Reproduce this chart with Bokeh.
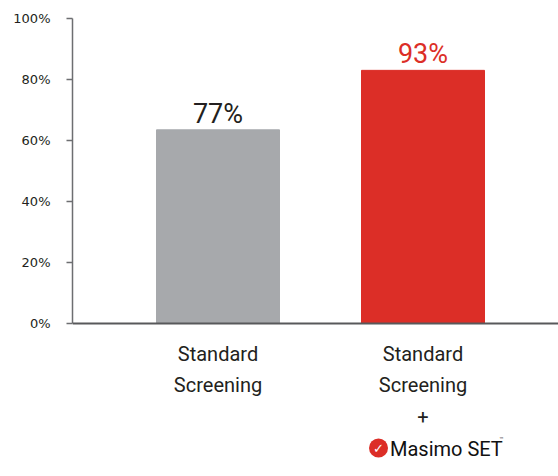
from bokeh.plotting import figure
from bokeh.models import Range1d, FixedTicker, PrintfTickFormatter, Span, ColumnDataSource
from bokeh.core.properties import value
from bokeh.embed import file_html
from bokeh.resources import INLINE

# ---- data ----
categories = ["Standard\nScreening", "Standard\nScreening\n+"]
bar_heights = [63.5, 83.0]           # bar heights as drawn (% of axis)
bar_labels = ["77%", "93%"]          # printed labels
bar_colors = ["#a7a9ac", "#dc2e27"]
label_colors = ["#231f20", "#dc2e27"]
y_ticks = [0, 20, 40, 60, 80, 100]

idx = list(range(len(categories)))

# ---- layout constants (pixels) ----
W, H = 558, 476
BORDER_L, BORDER_T = 72, 18
FRAME_W = W - BORDER_L
FRAME_H = H - BORDER_T
PX_PER_X = 205.0
PX_PER_Y = 305.0 / 100.0
FIRST_CENTER = 145.5
FONT = "Roboto"

x_start = -FIRST_CENTER / PX_PER_X
x_end = (FRAME_W - FIRST_CENTER) / PX_PER_X
y_end = 100
y_start = y_end - FRAME_H / PX_PER_Y

p = figure(width=W, height=H, output_backend="svg", toolbar_location=None,
           x_range=Range1d(x_start, x_end), y_range=Range1d(y_start, y_end),
           x_axis_location=None, min_border_left=BORDER_L, min_border_top=BORDER_T,
           min_border_right=0, min_border_bottom=0)
p.outline_line_color = None
p.grid.visible = False
p.background_fill_color = "white"

# y axis
ya = p.yaxis[0]
ya.bounds = (0, 100)
ya.ticker = FixedTicker(ticks=y_ticks)
ya.formatter = PrintfTickFormatter(format="%d%%")
ya.minor_tick_line_color = None
ya.major_tick_in = 0
ya.major_tick_out = 6
ya.major_label_standoff = 16
ya.axis_line_color = "#6d6e71"
ya.axis_line_width = 1.5
ya.major_tick_line_color = "#6d6e71"
ya.major_tick_line_width = 1.5
ya.major_label_text_font = "DejaVu Sans"
ya.major_label_text_font_size = "13px"
ya.major_label_text_color = "#231f20"

src = ColumnDataSource(dict(x=idx, h=bar_heights, lab=bar_labels, col=bar_colors,
                            lcol=label_colors, cat=categories, zero=[0] * len(idx)))

p.vbar(x="x", top="h", bottom=0, width=0.6, color="col", source=src)

# baseline (x axis line)
p.add_layout(Span(location=0, dimension="width", line_color="#58595b", line_width=2))

# value labels
p.text(x="x", y="h", text="lab", source=src, text_color="lcol",
       text_font=value(FONT), text_font_size="27px",
       text_align="center", text_baseline="alphabetic", y_offset=-16)

# category labels
p.text(x="x", y="zero", text="cat", source=src, text_color="#231f20",
       text_font=value(FONT), text_font_size="20px",
       text_align="center", text_baseline="top", text_line_height=1.32, y_offset=18)

# Masimo SET logo (below second category)
logo_dx_circle = -44.5
logo_dy = 124.5
p.scatter(x=[idx[1] + logo_dx_circle / PX_PER_X], y=[-logo_dy / PX_PER_Y],
          marker="circle", size=19, fill_color="#dc2e27", line_color=None)
p.text(x=[idx[1]], y=[0], text=["✓"], x_offset=logo_dx_circle, y_offset=logo_dy,
       text_color="white", text_font=value("DejaVu Sans"), text_font_style="bold",
       text_font_size="13px", text_align="center", text_baseline="middle")
p.text(x=[idx[1]], y=[0], text=["Masimo SET"], x_offset=-33, y_offset=logo_dy + 1,
       text_color="#111111", text_font=value(FONT),
       text_font_size="20px", text_align="left", text_baseline="middle")
p.text(x=[idx[1]], y=[0], text=["™"], x_offset=76, y_offset=logo_dy - 9,
       text_color="#111111", text_font=value("DejaVu Sans"),
       text_font_size="5px", text_align="left", text_baseline="middle")

open("out.html", "w").write(file_html(p, INLINE))
